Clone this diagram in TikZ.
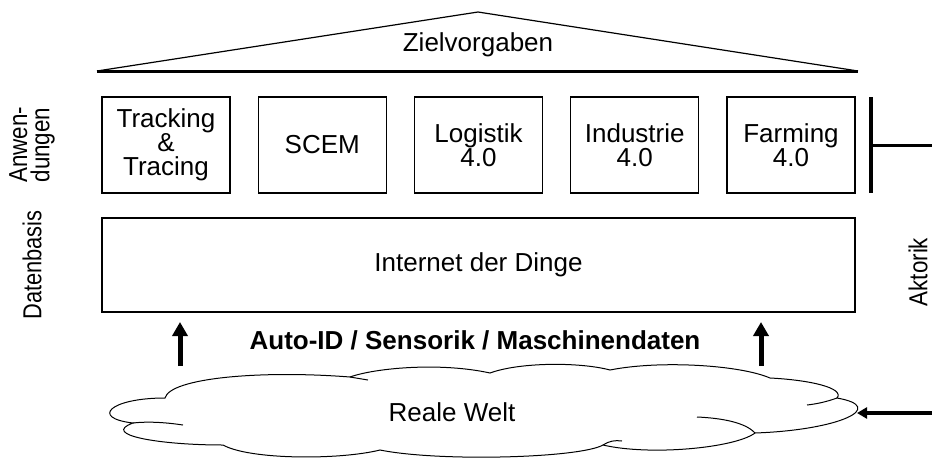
\documentclass[tikz,border=0pt]{standalone}
\usepackage{fontspec}
\setmainfont{Liberation Sans}
\usetikzlibrary{arrows.meta}

\tikzset{
  appbox/.style={draw, line width=1.2pt, minimum width=128pt, minimum height=96pt,
    inner sep=0pt, align=center, font=\fontsize{26}{24}\selectfont},
  upflow/.style={line width=5pt, -{Triangle[width=15pt,length=14pt]}},
  sidelabel/.style={rotate=90, align=center, inner sep=0pt, font=\fontsize{26}{20}\selectfont},
  plain/.style={font=\fontsize{26}{24}\selectfont},
}

\begin{document}
\begin{tikzpicture}[x=1pt,y=-1pt]
	%%%%% START %%%%%
	\useasboundingbox (0,0) rectangle (932,459);
	
	% roof
	\draw[line width=1.2pt] (97,71) -- (478,12) -- (858,71);
	\draw[line width=3pt] (97,71) -- (858,71);
	\node[plain] (ziel) at (478,45) {Zielvorgaben};
	
	% applications
	\node[appbox] (track) at (166,145) {Tracking\\\&\\Tracing};
	\node[appbox] (scem) at (322.25,145) {SCEM};
	\node[appbox] (logi) at (478.5,145) {Logistik\\4.0};
	\node[appbox] (indu) at (634.75,145) {Industrie\\4.0};
	\node[appbox] (farm) at (791,145) {Farming\\4.0};
	
	% data base
	\node[appbox, minimum width=753pt, minimum height=94pt] (iot) at (478.5,265) {Internet der Dinge};
	
	% side labels
	\node[sidelabel] (anw) at (32,145) {\scalebox{0.86}[1]{\shortstack{Anwen-\\dungen}}};
	\node[sidelabel] (daten) at (32,265) {\scalebox{0.84}[1]{Datenbasis}};
	\node[sidelabel] (akt) at (918,272) {\scalebox{0.86}[1]{Aktorik}};
	
	% actuators bracket
	\draw[line width=4pt] (871,97) -- (871,193);
	\draw[line width=3pt] (871,145) -- (932,145);
	
	% real world (cloud)
	\draw[line width=1pt]
	  (165,398) .. controls (170,378) and (260,370) .. (350,377)
	  .. controls (375,368) and (440,362) .. (490,373)
	  .. controls (520,362) and (580,362) .. (610,370)
	  .. controls (660,360) and (740,365) .. (770,378)
	  .. controls (810,380) and (845,388) .. (837,398)
	  .. controls (888,407) and (840,430) .. (755,433)
	  .. controls (735,448) and (650,456) .. (603,445)
	  .. controls (580,458) and (440,462) .. (380,450)
	  .. controls (340,460) and (250,460) .. (223,445)
	  .. controls (160,445) and (100,435) .. (133,423)
	  .. controls (90,418) and (110,398) .. cycle;
	\draw[line width=1pt] (133,423) .. controls (150,421) and (170,423) .. (183,425);
	\draw[line width=1pt] (350,377) .. controls (356,378) and (362,379) .. (368,380);
	\draw[line width=1pt] (837,398) .. controls (826,402) and (816,404) .. (807,405);
	\draw[line width=1pt] (755,433) .. controls (745,422) and (720,418) .. (697,417);
	\draw[line width=1pt] (603,445) .. controls (609,441) and (615,440) .. (622,441);
	\node[plain] (welt) at (452,412) {Reale Welt};
	\coordinate (weltost) at (857,413);
	\coordinate (aktin) at (932,413);
	\draw[line width=3.5pt, -{Triangle[width=11pt,length=10pt]}] (aktin) -- (weltost);
	
	% data flow
	\node[plain, font=\fontsize{26}{24}\selectfont\bfseries] (autoid) at (475,340) {Auto-ID / Sensorik / Maschinendaten};
	\coordinate (lfoot) at (180,366);
	\coordinate (lhead) at (180,322);
	\coordinate (rfoot) at (761,366);
	\coordinate (rhead) at (761,322);
	\draw[upflow] (lfoot) -- (lhead);
	\draw[upflow] (rfoot) -- (rhead);
	
	%%%%% END %%%%%
\end{tikzpicture}
\end{document}
